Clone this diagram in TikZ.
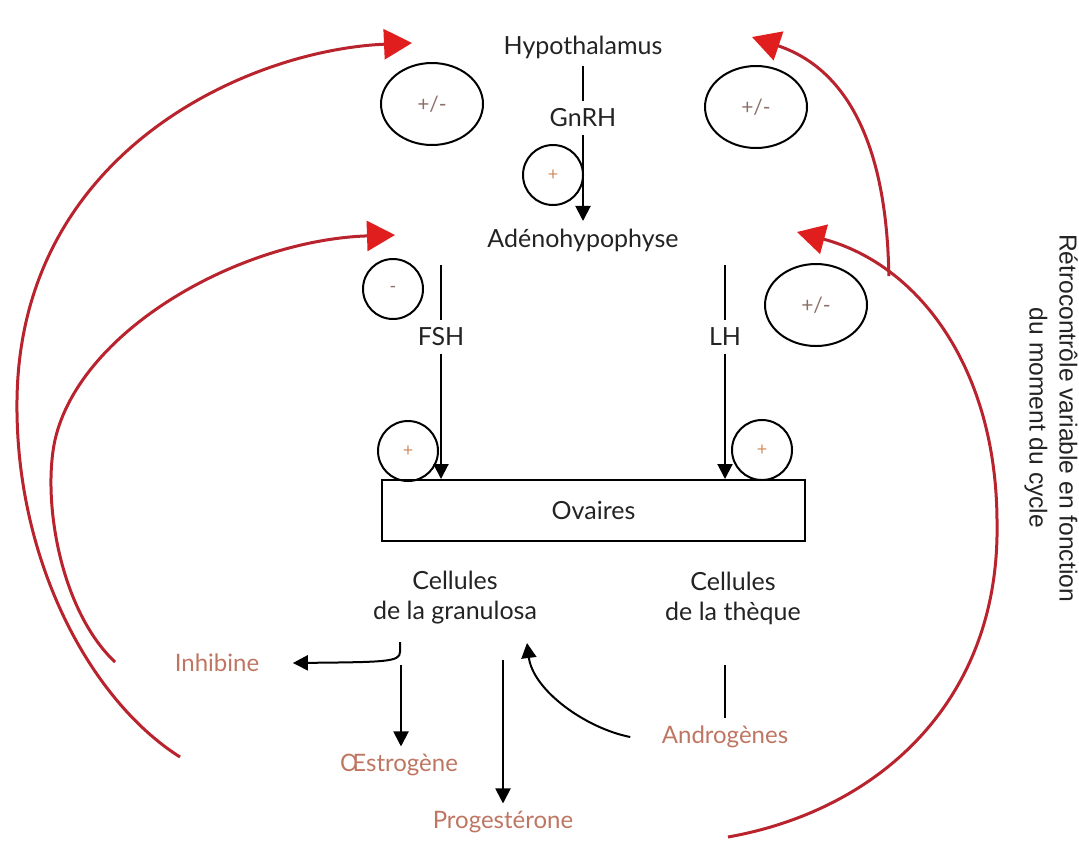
\documentclass[tikz,border=0pt]{standalone}
\usepackage{fontspec}
\setmainfont{Lato}
\newfontfamily\sidefont{Liberation Sans}
\usetikzlibrary{arrows.meta,shapes.geometric}

\definecolor{txtgray}{RGB}{35,35,35}
\definecolor{hormone}{RGB}{190,118,98}
\definecolor{signcol}{RGB}{210,140,95}
\definecolor{pmcol}{RGB}{140,112,105}
\definecolor{fbline}{RGB}{185,35,45}
\definecolor{fbtip}{RGB}{225,30,30}

\tikzset{every picture/.style={line width=1pt}}
\tikzset{
  lbl/.style={text=txtgray, font=\fontsize{12.5}{15}\selectfont},
  horm/.style={text=hormone, font=\fontsize{12}{14}\selectfont},
  sign/.style={draw, circle, minimum size=30pt, inner sep=0pt, text=signcol, font=\fontsize{9}{9}\selectfont},
  pm/.style={draw, ellipse, minimum width=51pt, minimum height=41pt, inner sep=0pt, text=pmcol, font=\fontsize{10.5}{10.5}\selectfont},
  blk/.style={-{Triangle[length=7.5pt,width=7.5pt]}},
  fb/.style={draw=fbline, line width=1.5pt, -{Triangle[length=14pt,width=15pt,color=fbtip,fill=fbtip]}},
}

\begin{document}
\begin{tikzpicture}[x=0.5pt,y=0.5pt,yscale=-1,xscale=1]
\useasboundingbox (0,0) rectangle (1079,847);

% Text Node
\node [lbl] (hypo) at (583,47) {Hypothalamus};
% Text Node
\node [lbl] (gnrh) at (583,118) {GnRH};
% Text Node
\node [lbl] (adeno) at (583,240) {Adénohypophyse};
% Text Node
\node [lbl] (fsh) at (441,337) {FSH};
% Text Node
\node [lbl] (lh) at (725,337) {LH};
%Shape: Rectangle
\node [draw, minimum width=211.5pt, minimum height=30.5pt, lbl] (ov) at (593.5,510.5) {Ovaires};
% Text Node
\node [lbl, align=center] (gran) at (455,598) {Cellules\\de la granulosa};
% Text Node
\node [lbl, align=center] (theq) at (733,598) {Cellules\\de la thèque};
% Text Node
\node [horm] (inhib) at (217,663) {Inhibine};
% Text Node
\node [horm] (oestro) at (399,765) {Œstrogène};
% Text Node
\node [horm] (proges) at (503,822) {Progestérone};
% Text Node
\node [horm] (andro) at (725,737) {Androgènes};
% Text Node
\node [rotate=-90, align=center, text=txtgray, font=\sidefont\fontsize{12.3}{15}\selectfont] (retro) at (1051,418) {Rétrocontrôle variable en fonction\\du moment du cycle};

%Shape: Ellipse
\node [pm] (pmhl) at (432,104) {+/-};
\node [pm] (pmhr) at (756,107) {+/-};
\node [pm] (pmlh) at (816,305) {+/-};
%Shape: Circle
\node [sign] (gnplus) at (553,175) {+};
\node [sign, text=pmcol] (fshmin) at (393,289) {-};
\node [sign] (fshplus) at (408,451) {+};
\node [sign] (lhplus) at (762,450) {+};

% axis
\draw (hypo) -- (gnrh);
\draw [blk] (gnrh) -- (adeno);
\coordinate (fshtop) at (441,265);
\coordinate (lhtop) at (725,265);
\draw (fshtop) -- (fsh);
\draw [blk] (fsh) -- (fsh |- ov.north);
\draw (lhtop) -- (lh);
\draw [blk] (lh) -- (lh |- ov.north);

% secretions
\coordinate (ginh) at (400,642);
\coordinate (goes) at (401,665);
\coordinate (gpro) at (503,660);
\coordinate (gand) at (527,643);
\coordinate (thq) at (725,665);
\draw [blk] (ginh) -- (400,652) .. controls (400,662) and (385,662) .. ([xshift=13pt]inhib.east);
\draw [blk] (goes) -- (goes |- oestro.north);
\draw [blk] (gpro) -- (gpro |- proges.north);
\draw [blk] ([xshift=-12pt]andro.west) .. controls (585,728) and (533,690) .. (gand);
\draw (andro) -- (thq);

% feedback loops
\coordinate (fbA0) at (180,757);
\coordinate (fbA1) at (412,43);
\coordinate (fbB0) at (115,662);
\coordinate (fbB1) at (395,235);
\coordinate (fbC0) at (728,837);
\coordinate (fbC1) at (797,232);
\coordinate (fbD1) at (752,37);
\draw [fb] (fbA0) .. controls (90,700) and (15,560) .. (17,400) .. controls (20,150) and (250,50) .. (fbA1);
\draw [fb] (fbB0) .. controls (60,610) and (42,500) .. (55,440) .. controls (80,330) and (240,240) .. (fbB1);
\draw [fb] (fbC0) .. controls (880,810) and (1000,700) .. (997,523) .. controls (997,370) and (920,265) .. (fbC1) coordinate[pos=0.72] (fbjct);
\draw [fb] (fbjct) .. controls (887,150) and (850,70) .. (fbD1);

\end{tikzpicture}
\end{document}
